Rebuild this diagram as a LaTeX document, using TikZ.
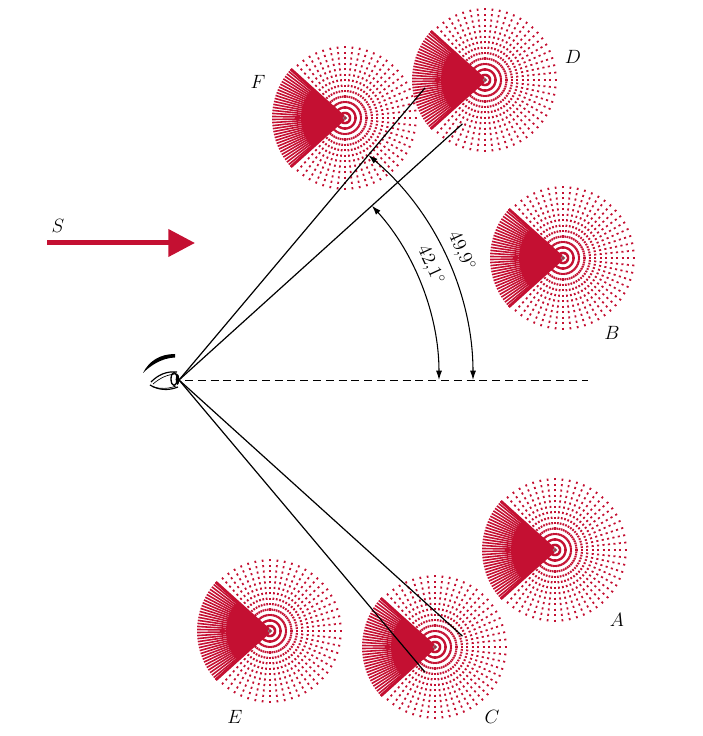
\documentclass[tikz,border=0pt]{standalone}
\usetikzlibrary{arrows.meta}
\definecolor{dropred}{RGB}{196,16,50}
\tikzset{%
  % Specifications for the droplets:
  raydot/.style = {draw=dropred, line width=1.3pt, dash pattern=on 1.6pt off 2.5pt},
  raysolid/.style = {draw=dropred, line width=1.2pt},
  raybound/.style = {draw=dropred, line width=2.2pt},
  droplet/.pic = {
    \foreach \a in {228,234,...,492}
      \draw[raydot] (\a:4) -- (\a:73);
    \fill[dropred] (0,0) -- (138:44) arc[start angle=138, end angle=222, radius=44] -- cycle;
    \foreach \a in {138,140.4,...,222}
      \draw[raysolid] (0,0) -- (\a:73);
    \draw[raybound] (138:73) -- (0,0) -- (222:73);
    \draw[gray, line width=0.5pt] (0,0) circle (1.8);
  },
  % labels and lines
  lab/.style = {font=\fontsize{14}{16}\selectfont},
  sight/.style = {line width=0.9pt},
  ang/.style = {<->, >={Latex[length=7pt,width=4.5pt]}, line width=0.8pt},
  horizon/.style = {line width=0.6pt, dash pattern=on 6pt off 3.6pt},
  sun/.style = {-{Triangle[length=20pt,width=20pt]}, draw=dropred, line width=3.75pt},
%  drop label/.style = {lab, text=dropred},
}

\begin{document}
\begin{tikzpicture}[x=0.75pt, y=0.75pt]
\useasboundingbox (0,0) rectangle (703,736);

% droplets
\pic at (345,618) {droplet};
\pic at (485,656) {droplet};
\pic at (563,478) {droplet};
\pic at (555,186) {droplet};
\pic at (435,89)  {droplet};
\pic at (270,105) {droplet};

\node[lab] (F) at (258,654) {$F$};
\node[lab] (D) at (573,679) {$D$};
\node[lab] (B) at (612,403) {$B$};
\node[lab] (A) at (617,116) {$A$};
\node[lab] (C) at (492,19)  {$C$};
\node[lab] (E) at (235,19)  {$E$};

% sunlight
\coordinate (sunA) at (47,493);
\coordinate (sunB) at (195,493);
\draw[sun] (sunA) -- (sunB);
\node[lab] (S) at (58,510) {$S$};

% eye
\coordinate (eye) at (179,356);
\fill (143,363) .. controls (149,375) and (160,382) .. (175,382)
  -- (175,378.5) .. controls (162,378) and (151,371) .. (143,363) -- cycle;
\draw[line width=0.9pt] (151,354) .. controls (158,361) and (166,365) .. (177,364);
\draw[line width=0.5pt] (153,352) .. controls (160,358) and (168,362) .. (177,362);
\draw[line width=0.9pt] (150,351) .. controls (158,346) and (168,345) .. (178,349);
\draw[line width=0.5pt] (153,349) .. controls (160,347) and (168,347) .. (176,350);
\draw[line width=1pt] (174,357) ellipse [x radius=3, y radius=6.5];
\fill (177.5,356.5) ellipse [x radius=1.8, y radius=5.5];

% lines of sight
\path (eye) ++(49.9:382) coordinate (upA);
\path (eye) ++(42.1:382) coordinate (upB);
\path (eye) ++(-49.9:382) coordinate (downA);
\path (eye) ++(-42.1:382) coordinate (downB);
\draw[sight] (eye) -- (upA);
\draw[sight] (eye) -- (upB);
\draw[sight] (eye) -- (downA);
\draw[sight] (eye) -- (downB);

\coordinate (far) at (588,356);
\draw[horizon] ([xshift=4.5pt]eye) -- (far);

% angles
\draw[ang] (eye) ++(0:260) arc[start angle=0, end angle=42.1, radius=260];
\draw[ang] (eye) ++(0:294) arc[start angle=0, end angle=49.9, radius=294];
\path (eye) ++(24.5:263) node[lab, rotate=-65.5, anchor=south] (a42) {$42{,}1^\circ$};
\path (eye) ++(24.5:297) node[lab, rotate=-65.5, anchor=south] (a49) {$49{,}9^\circ$};

\end{tikzpicture}
\end{document}
